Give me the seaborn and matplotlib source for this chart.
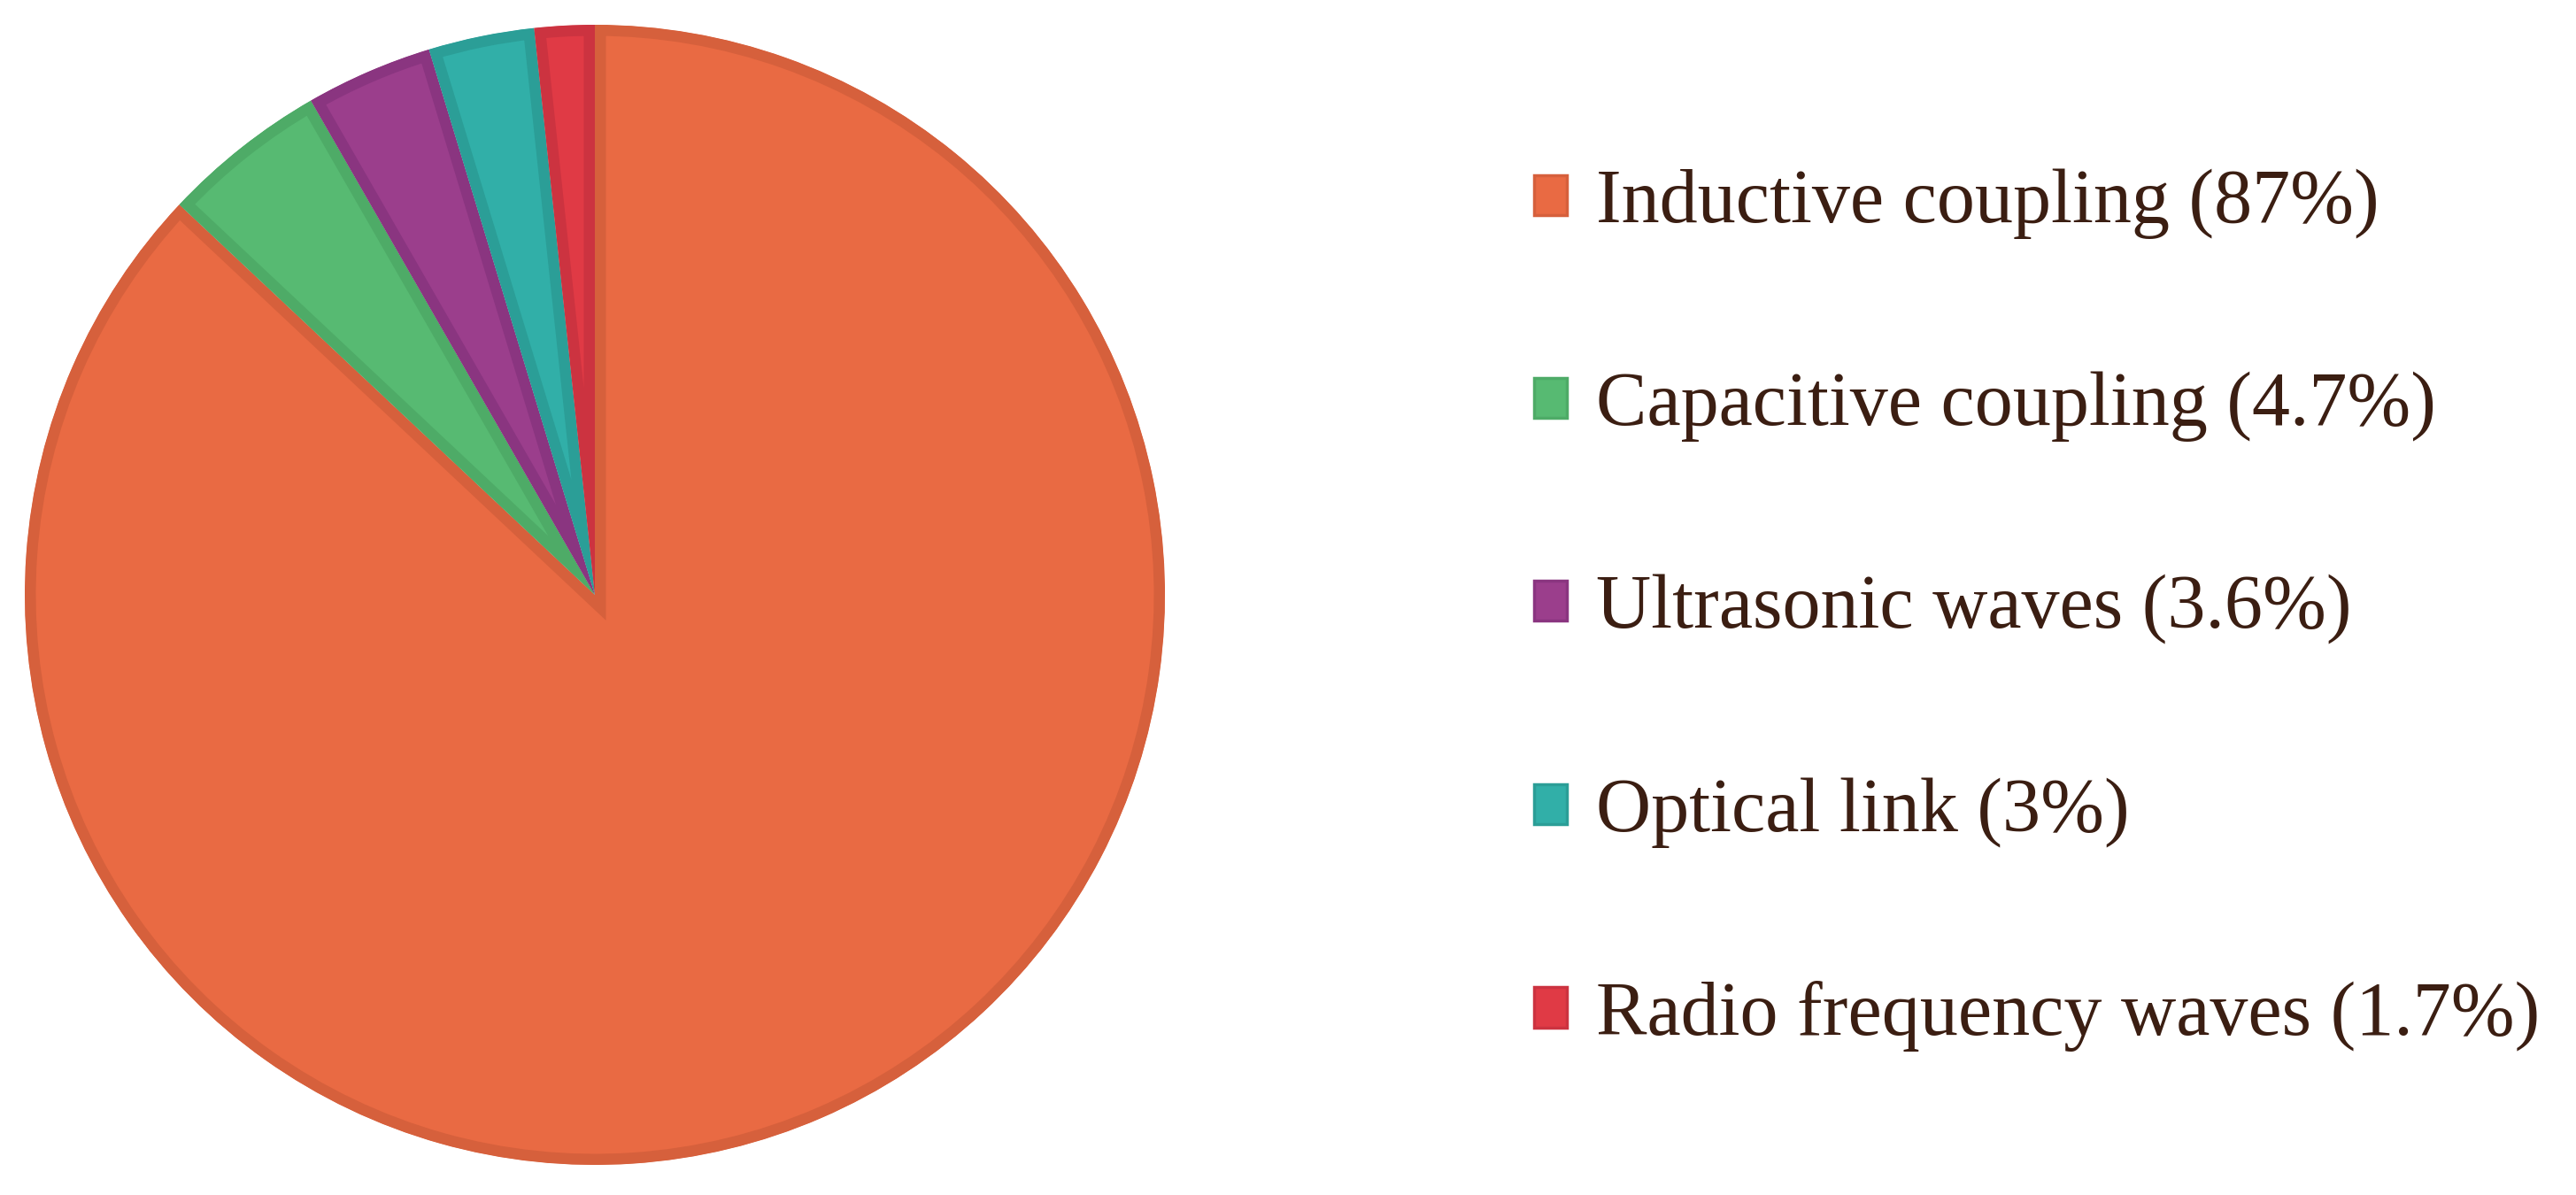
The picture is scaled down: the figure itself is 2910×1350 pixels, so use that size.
import matplotlib

matplotlib.use("Agg")
import matplotlib.pyplot as plt
import matplotlib.patches as mpatches
import seaborn as sns

# data
methods = ["Inductive coupling", "Capacitive coupling", "Ultrasonic waves",
           "Optical link", "Radio frequency waves"]
shares = [87, 4.7, 3.6, 3, 1.7]
share_labels = ["87%", "4.7%", "3.6%", "3%", "1.7%"]

fill_colors = ["#E96A43", "#57BA72", "#9B3E8C", "#31AFA8", "#E03A45"]
edge_colors = ["#D6603C", "#4EAB67", "#8A3580", "#2B9E97", "#CC3340"]
text_color = "#3B1E12"

sns.set_theme(style="white")
plt.rcParams["font.family"] = ["Liberation Serif", "DejaVu Serif"]

W, H, DPI = 2910, 1350, 100
fig = plt.figure(figsize=(W / DPI, H / DPI), dpi=DPI)
fig.patch.set_facecolor("white")

# pie axes: centre ~ (672, 672) px, radius ~ 644 px
cx, cy, r = 672, 672, 644
ax = fig.add_axes([(cx - r) / W, (H - cy - r) / H, 2 * r / W, 2 * r / H])
wedges, _ = ax.pie(shares, colors=sns.color_palette(fill_colors), startangle=90,
                   counterclock=False, radius=1,
                   wedgeprops=dict(linewidth=18, joinstyle="miter"))
for w, ec in zip(wedges, edge_colors):
    w.set_edgecolor(ec)
    w.set_clip_path(w)  # keep the darker stroke inside each slice
    w.set_clip_on(True)
ax.set_xlim(-1, 1)
ax.set_ylim(-1, 1)
ax.set_aspect("equal")
ax.axis("off")

handles = [mpatches.Patch(facecolor=fc, edgecolor=ec, linewidth=2.5)
           for fc, ec in zip(fill_colors, edge_colors)]
labels = [f"{m} ({p})" for m, p in zip(methods, share_labels)]
leg = fig.legend(handles, labels, loc="center left",
                 bbox_to_anchor=(1733 / W, 1 - 689 / H),
                 frameon=False, fontsize=62, handlelength=0.43, handleheight=0.43,
                 handletextpad=0.38, labelspacing=1.74, borderpad=0, borderaxespad=0)
for t in leg.get_texts():
    t.set_color(text_color)

fig.savefig("out.png", dpi=DPI, facecolor="white")
plt.close()
